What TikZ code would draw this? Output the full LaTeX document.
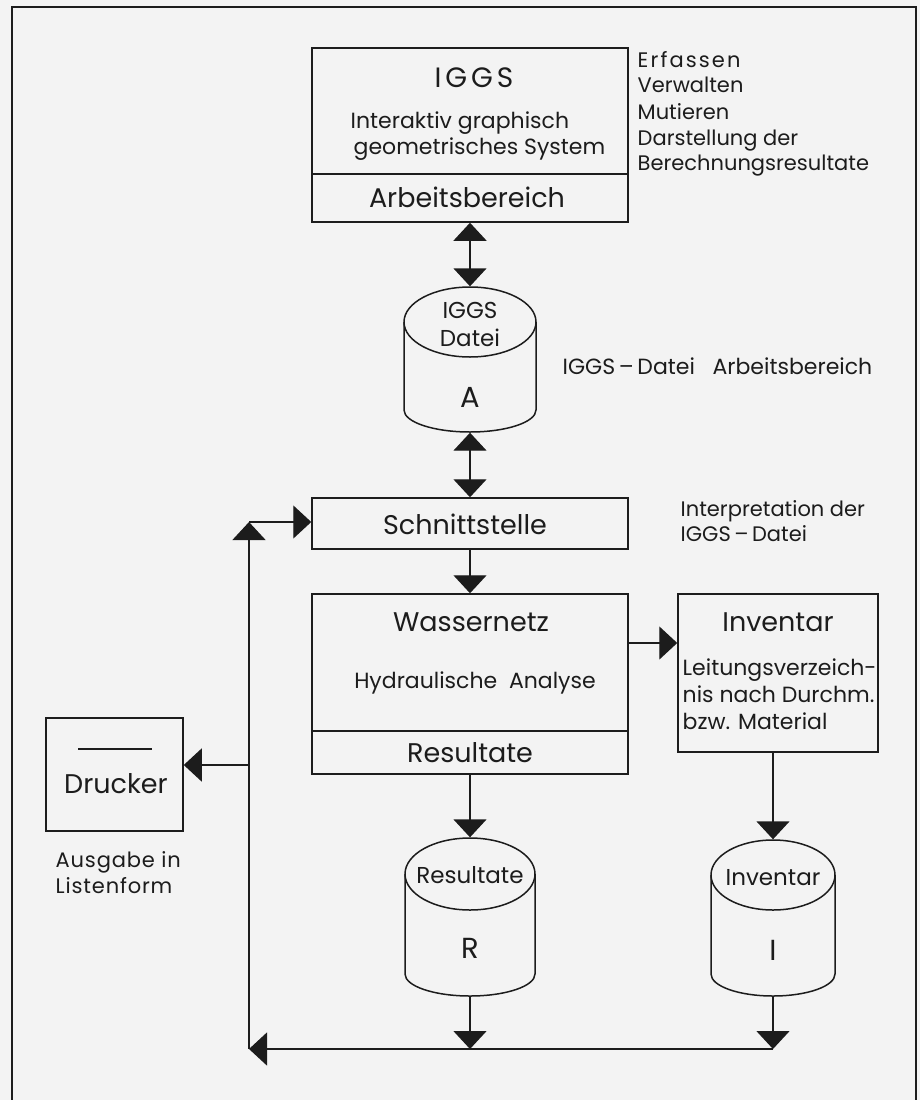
\documentclass[tikz,border=0pt]{standalone}
\usepackage{fontspec}
\setmainfont{Poppins}
\usetikzlibrary{arrows.meta,calc}
\definecolor{bg}{RGB}{243,243,243}
\definecolor{ink}{RGB}{28,28,28}
\begin{document}
\begin{tikzpicture}[x=1pt,y=-1pt,color=ink,line width=1.4pt,
  box/.style={draw,rectangle,inner sep=0pt,line width=1.5pt},
  ghost/.style={rectangle,inner sep=0pt},
  txt/.style={inner sep=0pt,anchor=base},
  ltxt/.style={inner sep=0pt,anchor=base west},
  big/.style={font=\fontsize{27}{30}\selectfont},
  mid/.style={font=\fontsize{22}{26}\selectfont},
  sml/.style={font=\fontsize{21}{26}\selectfont},
  cyl/.style={font=\fontsize{23}{26}\selectfont},
  let/.style={font=\fontsize{29}{30}\selectfont},
  tip/.style={-{Triangle[width=33pt,length=18pt]}},
  dtip/.style={{Triangle[width=33pt,length=18pt]}-{Triangle[width=33pt,length=18pt]}}]
\fill[bg] (0,0) rectangle (920,1100);
\useasboundingbox (0,0) rectangle (920,1100);
\draw[line width=1.5pt] (12,1100) -- (12,7) -- (916,7) -- (916,1100);

% boxes
\node[box,minimum width=316pt,minimum height=126pt] (iggs) at (470,111) {};
\node[box,minimum width=316pt,minimum height=48pt] (arb) at (470,198) {};
\node[box,minimum width=316pt,minimum height=51pt] (schnitt) at (470,523.5) {};
\node[box,minimum width=316pt,minimum height=137pt] (wasser) at (470,662.5) {};
\node[box,minimum width=316pt,minimum height=43pt] (result) at (470,752.5) {};
\node[box,minimum width=200pt,minimum height=158pt] (inv) at (778,673) {};
\node[box,minimum width=137pt,minimum height=113pt] (drucker) at (114.5,774.5) {};

% cylinders (invisible extents for connectors)
\node[ghost,minimum width=132pt,minimum height=145pt] (cylA) at (470,359.5) {};
\node[ghost,minimum width=130pt,minimum height=158pt] (cylR) at (470,917) {};
\node[ghost,minimum width=124pt,minimum height=156pt] (cylI) at (773,918) {};

\draw[line width=1.5pt] (470,322) ellipse[x radius=66,y radius=35];
\draw[line width=1.5pt] (404,322) -- (404,410) arc[start angle=180,end angle=0,x radius=66,y radius=22] -- (536,322);
\draw[line width=1.5pt] (470,874) ellipse[x radius=65,y radius=36];
\draw[line width=1.5pt] (405,874) -- (405,974) arc[start angle=180,end angle=0,x radius=65,y radius=22] -- (535,874);
\draw[line width=1.5pt] (773,875) ellipse[x radius=62,y radius=35];
\draw[line width=1.5pt] (711,875) -- (711,974) arc[start angle=180,end angle=0,x radius=62,y radius=22] -- (835,875);

% printer mark
\draw[line width=1.4pt] (78,749) -- (152,749);

% texts
\node[txt,font=\fontsize{28}{30}\selectfont\addfontfeatures{LetterSpace=14}] (tIGGS) at (474,87) {IGGS};
\node[ltxt,mid] (tInt) at (350,128.5) {Interaktiv graphisch};
\node[ltxt,mid] (tGeo) at (353,154.5) {geometrisches System};
\node[txt,big] (tArb) at (467,207) {Arbeitsbereich};

\node[ltxt,font=\fontsize{21}{26}\selectfont\addfontfeatures{LetterSpace=10}] (r1) at (637,67) {Erfassen};
\node[ltxt,sml] (r2) at (637,92) {Verwalten};
\node[ltxt,sml] (r3) at (637,119) {Mutieren};
\node[ltxt,sml] (r4) at (637,145) {Darstellung der};
\node[ltxt,sml] (r5) at (637,170) {Berechnungsresultate};

\node[txt,cyl] (aI) at (470,318) {IGGS};
\node[txt,cyl] (aD) at (470,346) {Datei};
\node[txt,let] (aA) at (470,407) {A};
\node[ltxt,mid] (tDA) at (562,374.7) {IGGS\,–\,Datei\ \ \ Arbeitsbereich};

\node[txt,big] (tSch) at (465,534.6) {Schnittstelle};
\node[ltxt,sml] (tIp1) at (680,516.4) {Interpretation der};
\node[ltxt,sml] (tIp2) at (680,541.4) {IGGS\,–\,Datei};

\node[txt,big] (tWas) at (471,631.6) {Wassernetz};
\node[txt,mid] (tHyd) at (475,688.7) {Hydraulische\ \ Analyse};
\node[txt,big] (tRes) at (470,762.6) {Resultate};

\node[txt,big] (tInv) at (778,631.6) {Inventar};
\node[ltxt,mid] (tL1) at (682,675.7) {Leitungsverzeich-};
\node[ltxt,mid] (tL2) at (682,702.7) {nis nach Durchm.};
\node[ltxt,mid] (tL3) at (682,729.7) {bzw. Material};

\node[txt,cyl] (rR) at (470,883) {Resultate};
\node[txt,let] (rRR) at (470,958) {R};
\node[txt,cyl] (iI) at (773,885) {Inventar};
\node[txt,let] (iII) at (773,960) {I};

\node[txt,big] (tDr) at (116,793.6) {Drucker};
\node[ltxt,font=\fontsize{21}{26}\selectfont\addfontfeatures{LetterSpace=4}] (tAus1) at (55,867) {Ausgabe in};
\node[ltxt,font=\fontsize{21}{26}\selectfont\addfontfeatures{LetterSpace=4}] (tAus2) at (55,893) {Listenform};

% connector coordinates
\coordinate (ct) at (249,522);
\coordinate (cd) at (249,765);
\coordinate (cb) at (249,1049);
\coordinate (rb) at (470,1049);
\coordinate (ib) at (773,1049);
\coordinate (aw) at (650,643);

% connectors
\draw[dtip] (arb.south) -- (cylA.north);
\draw[dtip] (cylA.south) -- (schnitt.north);
\draw[tip] (schnitt.south) -- (wasser.north);
\draw[tip] (wasser.east |- aw) -- (inv.west |- aw);
\draw[tip] (result.south) -- (cylR.north);
\draw[tip] (inv.south -| cylI.north) -- (cylI.north);
\draw[tip] (cylR.south) -- (rb);
\draw[tip] (cylI.south) -- (ib);
\draw[tip] (ib) -- (cb);
\draw[tip] (cb) -- (ct);
\draw[tip] (ct) -- (schnitt.west |- ct);
\draw[tip] (cd) -- (drucker.east |- cd);
\end{tikzpicture}
\end{document}
